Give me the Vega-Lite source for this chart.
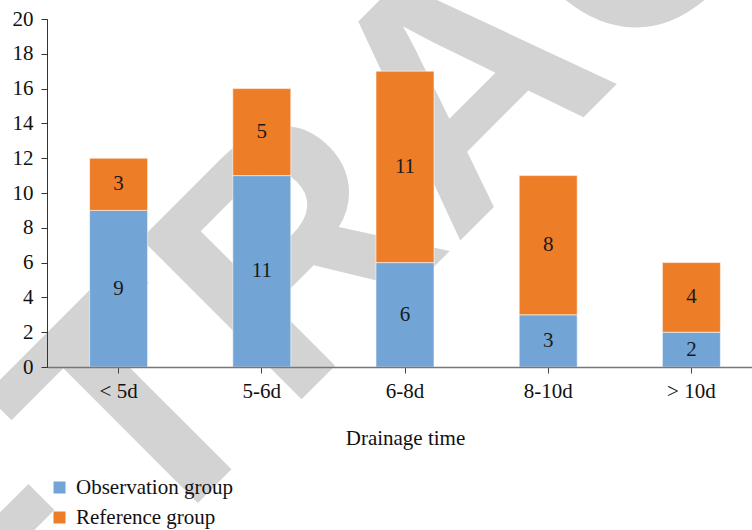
{
  "$schema": "https://vega.github.io/schema/vega-lite/v6.json",
  "autosize": {"type": "none"},
  "width": 716,
  "height": 348,
  "padding": {"left": 47, "top": 19, "right": 0, "bottom": 163},
  "config": {
    "view": {"stroke": null},
    "font": "Liberation Serif"
  },
  "datasets": {
    "bars": [
      {"time": "< 5d", "group": "Observation group", "value": 9},
      {"time": "< 5d", "group": "Reference group", "value": 3},
      {"time": "5-6d", "group": "Observation group", "value": 11},
      {"time": "5-6d", "group": "Reference group", "value": 5},
      {"time": "6-8d", "group": "Observation group", "value": 6},
      {"time": "6-8d", "group": "Reference group", "value": 11},
      {"time": "8-10d", "group": "Observation group", "value": 3},
      {"time": "8-10d", "group": "Reference group", "value": 8},
      {"time": "> 10d", "group": "Observation group", "value": 2},
      {"time": "> 10d", "group": "Reference group", "value": 4}
    ],
    "watermark": [
      {"text": "RETRACTED", "wx": 0.589, "wy": 15.8}
    ]
  },
  "resolve": {"scale": {"x": "independent", "y": "independent"}, "axis": {"x": "independent", "y": "independent"}},
  "layer": [
    {
      "data": {"name": "watermark"},
      "mark": {"type": "text", "font": "Liberation Sans", "fontWeight": "bold", "fontSize": 330, "angle": -45, "align": "center", "baseline": "middle", "color": "#d3d3d3"},
      "encoding": {
        "x": {"field": "wx", "type": "quantitative", "scale": {"domain": [0, 1]}, "axis": null},
        "y": {"field": "wy", "type": "quantitative", "scale": {"domain": [0, 20]}, "axis": null},
        "text": {"field": "text"}
      }
    },
    {
      "data": {"name": "bars"},
      "transform": [
        {"stack": "value", "groupby": ["time"], "sort": [{"field": "group"}], "as": ["v0", "v1"]},
        {"calculate": "(datum.v0 + datum.v1) / 2", "as": "mid"}
      ],
      "resolve": {"axis": {"y": "independent"}},
      "encoding": {
        "x": {
          "field": "time", "type": "nominal", "sort": ["< 5d", "5-6d", "6-8d", "8-10d", "> 10d"],
          "scale": {"paddingInner": 0.595, "paddingOuter": 0.2975},
          "title": "Drainage time",
          "axis": {
            "zindex": 2,
            "labelAngle": 0, "labelFontSize": 21, "labelColor": "#111", "labelPadding": 7,
            "tickSize": 6, "tickColor": "#444", "domainColor": "#777", "domainWidth": 1.5,
            "titleFontSize": 21, "titleFontWeight": "normal", "titleColor": "#111", "titlePadding": 26
          }
        }
      },
      "layer": [
        {
          "mark": {"type": "bar", "stroke": "#ffffff", "strokeWidth": 0.8, "strokeOpacity": 0.7},
          "encoding": {
            "y": {
              "field": "v0", "type": "quantitative",
              "scale": {"domain": [0, 20]},
              "title": null,
              "axis": {
                "zindex": 2, "orient": "left",
                "values": [0, 4, 8, 12, 16, 20], "labelOverlap": false,
                "grid": false, "labelFontSize": 21, "labelColor": "#111", "labelPadding": 8,
                "tickSize": 6, "tickColor": "#333", "domainColor": "#333"
              }
            },
            "y2": {"field": "v1"},
            "color": {
              "field": "group", "type": "nominal",
              "scale": {"domain": ["Observation group", "Reference group"], "range": ["#72A5D6", "#ED7D27"]},
              "legend": {
                "title": null, "orient": "none", "legendX": 2, "legendY": 458, "zindex": 2,
                "direction": "vertical", "symbolType": "square", "symbolSize": 144,
                "symbolStrokeWidth": 0, "labelFontSize": 21, "labelColor": "#111",
                "labelOffset": 6, "rowPadding": 8
              }
            }
          }
        },
        {
          "mark": {"type": "text", "fontSize": 21, "color": "#1a1a1a", "baseline": "middle"},
          "encoding": {
            "y": {
              "field": "mid", "type": "quantitative", "title": null,
              "scale": {"domain": [0, 20]},
              "axis": {
                "zindex": 2, "orient": "left",
                "values": [2, 6, 10, 14, 18], "labelOverlap": false,
                "grid": false, "labelFontSize": 21, "labelColor": "#111", "labelPadding": 8,
                "tickSize": 6, "tickColor": "#333", "domainColor": "#333"
              }
            },
            "text": {"field": "value", "type": "quantitative"}
          }
        }
      ]
    }
  ]
}
